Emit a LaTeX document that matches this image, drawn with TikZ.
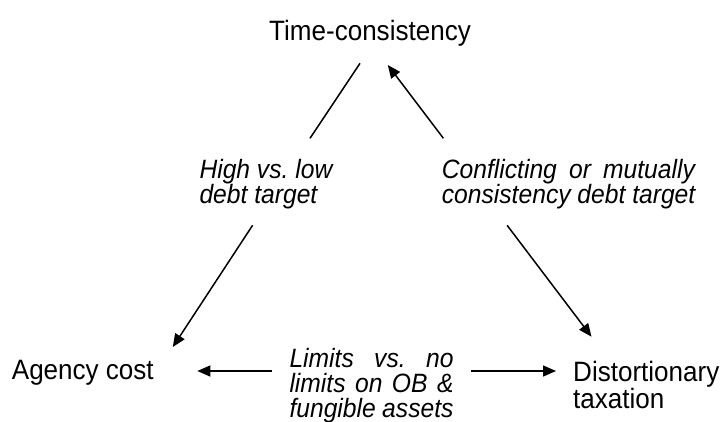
\documentclass[tikz,border=0pt]{standalone}
\usepackage{fontspec}
\setmainfont{Liberation Sans}[FakeStretch=0.93]
\usetikzlibrary{arrows.meta}
\frenchspacing

\begin{document}
\begin{tikzpicture}[x=1pt, y=-1pt,
  corner/.style={inner sep=0pt, anchor=base west, font=\fontsize{28}{25}\selectfont},
  note/.style={inner sep=0pt, anchor=base west, font=\fontsize{26.5}{25}\selectfont\itshape},
  link/.style={line width=1.5pt},
  arr/.style={line width=1.5pt, -{Triangle[length=13pt,width=11pt]}}]
\useasboundingbox (0,0) rectangle (723,421);
% the three corners
\node[corner] (time) at (269,40) {Time-consistency};
\node[corner] (agency) at (11.7,379.5) {Agency cost};
\node[corner] (distort) at (573,381) {\parbox[t]{150pt}{Distortionary\\taxation}};
% labels on the sides
\node[note] (highlow) at (199.3,178) {\parbox[t]{135pt}{High vs. low\\debt target}};
\node[note] (conflict) at (441.7,178) {\parbox[t]{254pt}{\makebox[253pt][s]{Conflicting or mutually}\\consistency debt target}};
\node[note] (limits) at (289.3,367) {\parbox[t]{164pt}{\makebox[164pt][s]{Limits vs. no}\\\makebox[164pt][s]{limits on OB \&}\\\makebox[164pt][s]{fungible assets}}};
% line ends
\coordinate (hl-up) at (310,138.3);
\coordinate (time-l) at (360,63.3);
\coordinate (cf-up) at (443.4,138.3);
\coordinate (time-r) at (387.8,65);
\coordinate (hl-down) at (252.6,225.3);
\coordinate (agency-n) at (172.8,347);
\coordinate (cf-down) at (507.1,225.3);
\coordinate (distort-n) at (591.5,336.7);
\coordinate (lim-l) at (272,371);
\coordinate (agency-e) at (197.3,371);
\coordinate (lim-r) at (471.2,371);
\coordinate (distort-w) at (556,371);
\draw[link] (hl-up) -- (time-l);
\draw[arr] (cf-up) -- (time-r);
\draw[arr] (hl-down) -- (agency-n);
\draw[arr] (cf-down) -- (distort-n);
\draw[arr] (lim-l) -- (agency-e);
\draw[arr] (lim-r) -- (distort-w);
\end{tikzpicture}
\end{document}
